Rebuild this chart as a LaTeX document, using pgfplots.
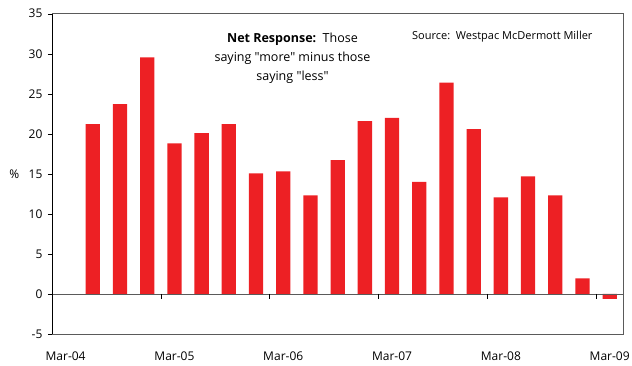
\documentclass[border=0pt]{standalone}
\usepackage{pgfplots}
\pgfplotsset{compat=1.18}
\usepackage{fontspec}
\setmainfont{Open Sans}[Ligatures=TeXOff]
\definecolor{barred}{RGB}{237,32,36}
\definecolor{frame}{RGB}{90,90,90}
\begin{document}
\begin{tikzpicture}[x=1pt,y=1pt]
\path[use as bounding box] (-52,-31) rectangle (580,334);
\begin{axis}[
  at={(0,0)}, anchor=south west,
  scale only axis,
  width=571.3pt, height=320.3pt,
  xmin=-0.5, xmax=20.5,
  ymin=-5, ymax=35,
  ytick={-5,0,5,10,15,20,25,30,35},
  xtick={0,4,8,12,16,20},
  xticklabels={Mar-04,Mar-05,Mar-06,Mar-07,Mar-08,Mar-09},
  x tick style={draw=none},
  y tick style={black},
  major tick length=4pt,
  tick align=outside,
  ytick pos=left, xtick pos=bottom,
  axis line style={frame, line width=0.8pt},
  tick label style={font=\fontsize{12}{14}\selectfont},
  /pgf/number format/assume math mode=true,
  xticklabel style={yshift=-10pt},
  yticklabel style={xshift=-2pt},
  ylabel={\%},
  ylabel style={rotate=-90, at={(axis description cs:-0.066,0.5)}, anchor=center, font=\fontsize{12}{14}\selectfont},
  ybar, bar width=14.3pt, bar shift=0pt,
  clip=false,
]
\addplot[fill=barred, draw=none] coordinates {
(1,21.2) (2,23.7) (3,29.55) (4,18.8) (5,20.1) (6,21.2) (7,15.05) (8,15.3) (9,12.3) (10,16.7)
(11,21.6) (12,22.0) (13,14.0) (14,26.4) (15,20.6) (16,12.05) (17,14.7) (18,12.3) (19,1.95) (20,-0.62)
};
\draw[frame, line width=0.8pt] (axis cs:-0.5,0) -- (axis cs:20.5,0);
\pgfplotsinvokeforeach{3.5,7.5,11.5,15.5,19.5}{\draw[black, line width=0.6pt] (axis cs:#1,0) -- (axis cs:#1,-0.6);}
\draw[black, line width=0.9pt] (axis cs:-0.5,-5) -- (axis cs:-0.5,35);
\end{axis}
\node[align=center, font=\fontsize{12.5}{19}\selectfont] at (240.5,276) {\textbf{Net Response:}\ \ Those\\saying "more" minus those\\saying "less"};
\node[anchor=west, inner sep=0pt, font=\fontsize{11}{13}\selectfont] at (360,297) {Source:\ \ Westpac McDermott Miller};
\end{tikzpicture}
\end{document}
